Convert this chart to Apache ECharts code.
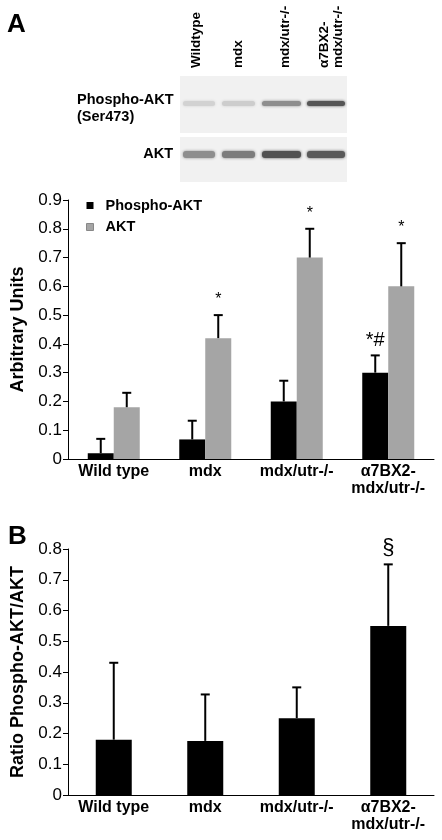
<!DOCTYPE html>
<html><head><meta charset="utf-8">
<script src="https://cdn.jsdelivr.net/npm/echarts@6/dist/echarts.min.js"></script>
<style>html,body{margin:0;padding:0;background:#fff}#c{width:442px;height:840px}</style>
</head><body><div id="c"></div>
<script>
const categories = ['Wild type', 'mdx', 'mdx/utr-/-', 'α7BX2-\nmdx/utr-/-'];
const seriesNamesA = ['Phospho-AKT', 'AKT'];
const phosphoA = [0.02, 0.068, 0.20, 0.30];
const phosphoATop = [0.07, 0.133, 0.272, 0.36];
const aktA = [0.18, 0.42, 0.70, 0.60];
const aktATop = [0.23, 0.50, 0.80, 0.75];
const phosphoANote = ['', '', '', '*#'];
const aktANote = ['', '*', '*', '*'];
const ratioB = [0.18, 0.176, 0.25, 0.55];
const ratioBTop = [0.43, 0.327, 0.35, 0.75];
const ratioBNote = ['', '', '', '§'];
const yMaxA = 0.9, yMaxB = 0.8, yStep = 0.1;
const laneLabels = ['Wildtype', 'mdx', 'mdx/utr-/-', 'α7BX2-\nmdx/utr-/-'];
const phosphoBandColor = ['#d2d2d2', '#cdcdcd', '#8e8e8e', '#565656'];
const aktBandColor = ['#8e8e8e', '#7c7c7c', '#525252', '#5a5a5a'];

const FONT = '"Liberation Sans", Arial, Helvetica, sans-serif';
const chart = echarts.init(document.getElementById('c'));

function errSeries(xi, means, tops, notes, offset, noteFont, noteGap) {
  return {
    type: 'custom', xAxisIndex: xi, yAxisIndex: xi, z: 5, silent: true,
    data: means.map((m, i) => [i, m, tops[i]]),
    renderItem: function (params, api) {
      const i = api.value(0);
      const p0 = api.coord([i, api.value(1)]);
      const p1 = api.coord([i, api.value(2)]);
      const x = p0[0] + offset;
      const note = notes[params.dataIndex];
      const ch = [
        {type: 'line', shape: {x1: x, y1: p0[1], x2: x, y2: p1[1]}, style: {stroke: '#000', lineWidth: 2}},
        {type: 'line', shape: {x1: x - 4.5, y1: p1[1], x2: x + 4.5, y2: p1[1]}, style: {stroke: '#000', lineWidth: 2}}
      ];
      if (note) {
        ch.push({type: 'text', x: x, y: p1[1] - noteGap, style: {text: note, font: noteFont, fill: '#000', align: 'center', verticalAlign: 'middle'}});
      }
      return {type: 'group', children: ch};
    }
  };
}

const gridLeft = 68, gridWidth = 366;
const xAxisCommon = {
  type: 'category', data: categories,
  axisLine: {lineStyle: {color: '#000', width: 1}},
  axisTick: {show: false},
  axisLabel: {color: '#000', fontFamily: FONT, fontWeight: 'bold', fontSize: 16, lineHeight: 17, margin: 4, interval: 0}
};
const yAxisCommon = {
  type: 'value', min: 0, interval: yStep,
  splitLine: {show: false},
  axisLine: {show: true, lineStyle: {color: '#000', width: 1}},
  axisTick: {show: true, length: 5, lineStyle: {color: '#000'}},
  axisLabel: {color: '#000', fontFamily: FONT, fontSize: 17, margin: 6},
  nameLocation: 'middle', nameRotate: 90,
  nameTextStyle: {color: '#000', fontFamily: FONT, fontWeight: 'bold', fontSize: 18}
};

const graphics = [];
graphics.push({type: 'text', left: 7, top: 12, style: {text: 'A', font: 'bold 26px ' + FONT, fill: '#000'}});
graphics.push({type: 'text', left: 8, top: 524, style: {text: 'B', font: 'bold 26px ' + FONT, fill: '#000'}});
graphics.push({type: 'rect', shape: {x: 180, y: 76, width: 167, height: 57}, style: {fill: '#f1f1f1'}, z: 1});
graphics.push({type: 'rect', shape: {x: 180, y: 137, width: 167, height: 45}, style: {fill: '#f1f1f1'}, z: 1});
const laneX = [[183, 32], [222, 33], [262, 39], [307, 38]];
const laneTextX = [196, 238, 285, 331];
laneX.forEach((l, i) => {
  graphics.push({type: 'rect', shape: {x: l[0], y: 101, width: l[1], height: 5, r: 2.5}, style: {fill: phosphoBandColor[i], shadowBlur: 3, shadowColor: phosphoBandColor[i]}, z: 2});
  graphics.push({type: 'rect', shape: {x: l[0], y: 151, width: l[1], height: 7, r: 3}, style: {fill: aktBandColor[i], shadowBlur: 3, shadowColor: aktBandColor[i]}, z: 2});
  graphics.push({type: 'text', x: laneTextX[i], y: 68, rotation: Math.PI / 2, style: {text: laneLabels[i], font: 'bold 13.5px ' + FONT, fill: '#000', align: 'left', verticalAlign: 'middle', lineHeight: 14}, z: 3});
});
graphics.push({type: 'text', x: 77, y: 100, style: {text: 'Phospho-AKT', font: 'bold 14.5px ' + FONT, fill: '#000', align: 'left', verticalAlign: 'middle'}});
graphics.push({type: 'text', x: 77, y: 117, style: {text: '(Ser473)', font: 'bold 14.5px ' + FONT, fill: '#000', align: 'left', verticalAlign: 'middle'}});
graphics.push({type: 'text', x: 173, y: 154, style: {text: 'AKT', font: 'bold 14.5px ' + FONT, fill: '#000', align: 'right', verticalAlign: 'middle'}});

chart.setOption({
  animation: false,
  backgroundColor: '#fff',
  graphic: graphics,
  legend: {
    orient: 'vertical', left: 86, top: 198, padding: 0, itemGap: 6.5,
    itemWidth: 7, itemHeight: 7, icon: 'rect',
    textStyle: {color: '#000', fontFamily: FONT, fontWeight: 'bold', fontSize: 14.5, lineHeight: 15, padding: [0, 0, 0, 7]},
    data: [
      {name: seriesNamesA[0], itemStyle: {color: '#000'}},
      {name: seriesNamesA[1], itemStyle: {color: '#a5a5a5', borderColor: '#888', borderWidth: 1}}
    ]
  },
  grid: [
    {left: gridLeft, width: gridWidth, top: 200, height: 259},
    {left: gridLeft, width: gridWidth, top: 549, height: 246}
  ],
  xAxis: [
    Object.assign({gridIndex: 0}, xAxisCommon),
    Object.assign({gridIndex: 1}, xAxisCommon)
  ],
  yAxis: [
    Object.assign({}, yAxisCommon, {gridIndex: 0, max: yMaxA, name: 'Arbitrary Units', nameGap: 41}),
    Object.assign({}, yAxisCommon, {gridIndex: 1, max: yMaxB, name: 'Ratio Phospho-AKT/AKT', nameGap: 41})
  ],
  series: [
    {name: seriesNamesA[0], type: 'bar', xAxisIndex: 0, yAxisIndex: 0, data: phosphoA, barWidth: 26, barGap: '0%', itemStyle: {color: '#000'}},
    {name: seriesNamesA[1], type: 'bar', xAxisIndex: 0, yAxisIndex: 0, data: aktA, barWidth: 26, barGap: '0%', itemStyle: {color: '#a5a5a5'}},
    errSeries(0, phosphoA, phosphoATop, phosphoANote, -13, '20px ' + FONT, 15),
    errSeries(0, aktA, aktATop, aktANote, 13, '16px ' + FONT, 15.5),
    {name: 'Ratio', type: 'bar', xAxisIndex: 1, yAxisIndex: 1, data: ratioB, barWidth: 36, itemStyle: {color: '#000'}},
    errSeries(1, ratioB, ratioBTop, ratioBNote, 0, '22px ' + FONT, 16)
  ]
});
</script></body></html>
